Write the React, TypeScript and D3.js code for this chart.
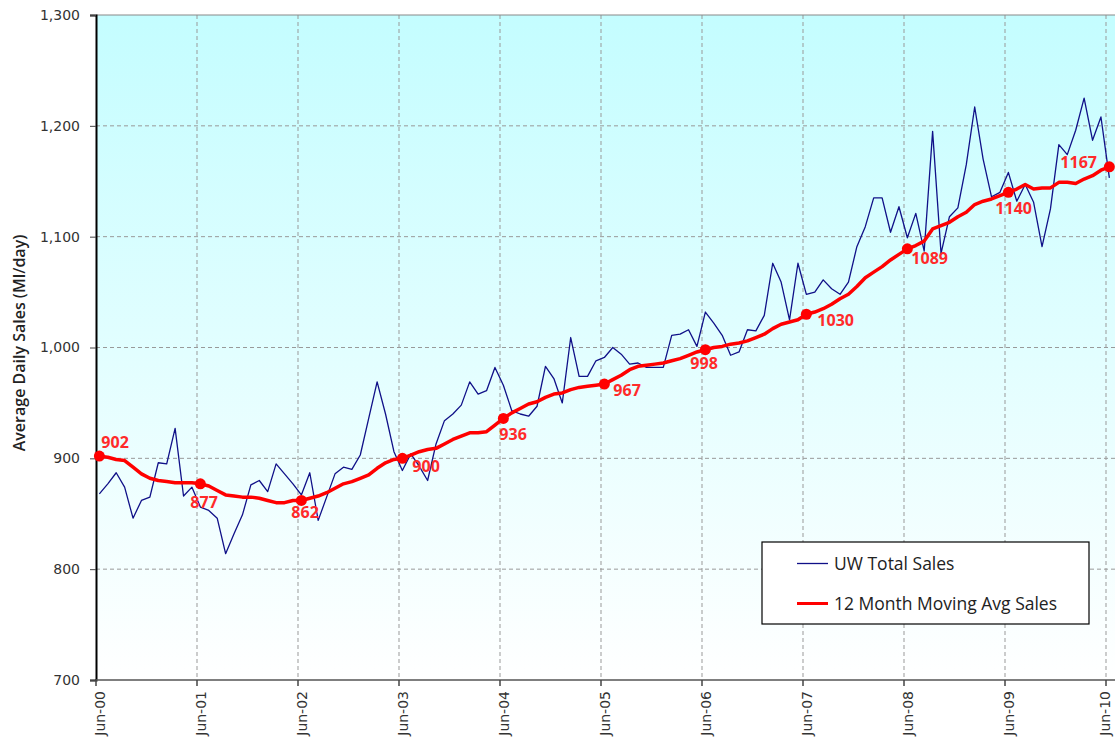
import { useEffect, useRef } from 'react';
import * as d3 from 'd3';

// monthly values, Jun-00 .. Jun-10 (121 months)
const totalSales: number[] = [
  868, 877, 887, 874, 846, 862, 865, 896, 895, 927, 866, 874,
  856, 853, 846, 814, 832, 849, 876, 880, 870, 895, 886, 877,
  867, 887, 844, 865, 886, 892, 890, 903, 936, 969, 940, 906,
  889, 904, 893, 880, 913, 934, 940, 948, 969, 958, 961, 982,
  966, 943, 940, 938, 947, 983, 972, 950, 1009, 974, 974, 988,
  991, 1000, 994, 985, 986, 982, 982, 982, 1011, 1012, 1016, 1001,
  1032, 1022, 1011, 993, 996, 1016, 1015, 1029, 1076, 1059, 1025, 1076,
  1048, 1050, 1061, 1053, 1048, 1059, 1091, 1109, 1135, 1135, 1104, 1127,
  1099, 1121, 1087, 1195, 1085, 1118, 1126, 1165, 1217, 1170, 1136, 1140,
  1158, 1132, 1147, 1131, 1091, 1125, 1183, 1174, 1196, 1225, 1187, 1208,
  1153,
];

const movingAvg: number[] = [
  902, 901, 899, 898, 892, 886, 882, 880, 879, 878, 878, 878,
  877, 875, 871, 867, 866, 865, 865, 864, 862, 860, 860, 862,
  862, 864, 866, 869, 873, 877, 879, 882, 885, 891, 896, 899,
  900, 903, 906, 908, 909, 913, 917, 920, 923, 923, 924, 930,
  936, 941, 945, 949, 951, 955, 958, 959, 962, 964, 965, 966,
  967, 971, 975, 980, 983, 984, 985, 986, 988, 990, 993, 996,
  998, 1000, 1001, 1003, 1004, 1006, 1009, 1012, 1017, 1021, 1023, 1025,
  1030, 1032, 1035, 1039, 1044, 1048, 1055, 1063, 1068, 1073, 1079, 1084,
  1089, 1092, 1096, 1107, 1110, 1113, 1118, 1122, 1129, 1132, 1134, 1137,
  1140, 1143, 1147, 1143, 1144, 1144, 1149, 1149, 1148, 1152, 1155, 1160,
  1163,
];

const tickLabels = ['Jun-00', 'Jun-01', 'Jun-02', 'Jun-03', 'Jun-04', 'Jun-05', 'Jun-06', 'Jun-07', 'Jun-08', 'Jun-09', 'Jun-10'];
const yTicks = [700, 800, 900, 1000, 1100, 1200, 1300];

// data labels on the moving average (every June)
const labelMonths = [0, 12, 24, 36, 48, 60, 72, 84, 96, 108, 120];
const labelTexts = ['902', '877', '862', '900', '936', '967', '998', '1030', '1089', '1140', '1167'];
// where each label sits relative to its marker
const labelOffsets: [number, number][] = [
  [2, -8], [-10, 24], [-10, 18], [10, 14], [-4, 22], [9, 12],
  [-15, 19], [11, 12], [4, 15], [-13, 22], [-49, 1],
];

const App = () => {
  const svgRef = useRef<SVGSVGElement>(null);

  useEffect(() => {
    if (!svgRef.current) return;
    document.body.style.margin = '0';

    const svg = d3.select(svgRef.current);
    svg.selectAll('*').remove();

    const left = 96;
    const top = 15;
    const bottom = 680;
    const right = 1115;
    const offset = 0.4; // data points sit a little past the month tick

    const x = d3.scaleLinear().domain([0, 120]).range([96, 1106]);
    const y = d3.scaleLinear().domain([700, 1300]).range([bottom, top]);

    const defs = svg.append('defs');
    const grad = defs
      .append('linearGradient')
      .attr('id', 'bg')
      .attr('x1', 0)
      .attr('y1', 0)
      .attr('x2', 0)
      .attr('y2', 1);
    grad.append('stop').attr('offset', '0%').attr('stop-color', '#c4fdff');
    grad.append('stop').attr('offset', '100%').attr('stop-color', '#ffffff');

    svg
      .append('rect')
      .attr('x', left)
      .attr('y', top)
      .attr('width', right - left)
      .attr('height', bottom - top)
      .attr('fill', 'url(#bg)');

    // grid
    svg
      .selectAll('.hgrid')
      .data(yTicks.filter((d) => d > 700 && d < 1300))
      .enter()
      .append('line')
      .attr('x1', left)
      .attr('x2', right)
      .attr('y1', (d) => y(d))
      .attr('y2', (d) => y(d))
      .attr('stroke', '#999')
      .attr('stroke-dasharray', '4,3');

    svg
      .selectAll('.vgrid')
      .data(tickLabels.slice(1))
      .enter()
      .append('line')
      .attr('x1', (_, i) => x((i + 1) * 12))
      .attr('x2', (_, i) => x((i + 1) * 12))
      .attr('y1', top)
      .attr('y2', bottom)
      .attr('stroke', '#999')
      .attr('stroke-dasharray', '4,3');

    // top border
    svg
      .append('line')
      .attr('x1', left)
      .attr('x2', right)
      .attr('y1', top)
      .attr('y2', top)
      .attr('stroke', '#888');

    // y axis
    const yAxis = d3
      .axisLeft(y)
      .tickValues(yTicks)
      .tickSize(6)
      .tickPadding(10)
      .tickFormat((d) => d3.format(',')(d as number));
    svg
      .append('g')
      .attr('transform', `translate(${left},0)`)
      .call(yAxis)
      .call((g) => g.select('.domain').attr('stroke', '#000').attr('stroke-width', 2))
      .call((g) => g.selectAll('.tick line').attr('stroke', '#444'))
      .call((g) =>
        g
          .selectAll('.tick text')
          .attr('font-family', 'DejaVu Sans')
          .attr('font-size', 14)
          .attr('fill', '#333')
      );

    // x axis
    svg
      .append('line')
      .attr('x1', left)
      .attr('x2', right)
      .attr('y1', bottom)
      .attr('y2', bottom)
      .attr('stroke', '#555')
      .attr('stroke-width', 1.5);

    svg
      .selectAll('.xtick')
      .data(tickLabels)
      .enter()
      .append('line')
      .attr('x1', (_, i) => x(i * 12))
      .attr('x2', (_, i) => x(i * 12))
      .attr('y1', bottom)
      .attr('y2', bottom + 6)
      .attr('stroke', '#444')
      .attr('stroke-width', 1.5);

    svg
      .selectAll('.xlabel')
      .data(tickLabels)
      .enter()
      .append('text')
      .attr('transform', (_, i) => `translate(${Math.min(x(i * 12) + 9, 1110)},691) rotate(-90)`)
      .attr('text-anchor', 'end')
      .attr('font-family', 'DejaVu Sans')
      .attr('font-size', 14)
      .attr('fill', '#333')
      .text((d) => d);

    // y title
    svg
      .append('text')
      .attr('transform', 'translate(25,343) rotate(-90)')
      .attr('text-anchor', 'middle')
      .attr('font-family', 'Open Sans')
      .attr('font-weight', 600)
      .attr('font-size', 16)
      .attr('fill', '#222')
      .text('Average Daily Sales (Ml/day)');

    // series
    const line = d3
      .line<number>()
      .x((_, i) => x(i + offset))
      .y((d) => y(d));

    svg
      .append('path')
      .datum(totalSales)
      .attr('d', line)
      .attr('fill', 'none')
      .attr('stroke', '#101088')
      .attr('stroke-width', 1.3)
      .attr('stroke-linejoin', 'round');

    svg
      .append('path')
      .datum(movingAvg)
      .attr('d', line)
      .attr('fill', 'none')
      .attr('stroke', '#ff0000')
      .attr('stroke-width', 3.5)
      .attr('stroke-linejoin', 'round');

    svg
      .selectAll('.marker')
      .data(labelMonths)
      .enter()
      .append('circle')
      .attr('cx', (m) => x(m + offset))
      .attr('cy', (m) => y(movingAvg[m]))
      .attr('r', 5.5)
      .attr('fill', '#ff0000');

    svg
      .selectAll('.dlabel')
      .data(labelMonths)
      .enter()
      .append('text')
      .attr('x', (m, i) => x(m + offset) + labelOffsets[i][0])
      .attr('y', (m, i) => y(movingAvg[m]) + labelOffsets[i][1])
      .attr('font-family', 'Open Sans')
      .attr('font-weight', 700)
      .attr('font-size', 16)
      .attr('fill', '#ff2a2a')
      .text((_, i) => labelTexts[i]);

    // legend
    const legend = svg.append('g').attr('transform', 'translate(762,542)');
    legend
      .append('rect')
      .attr('width', 327)
      .attr('height', 82)
      .attr('fill', '#fff')
      .attr('stroke', '#000')
      .attr('stroke-width', 1.2);
    const items = [
      { name: 'UW Total Sales', color: '#101088', width: 1.3 },
      { name: '12 Month Moving Avg Sales', color: '#ff0000', width: 3 },
    ];
    items.forEach((item, i) => {
      const cy = 21.5 + i * 40;
      legend
        .append('line')
        .attr('x1', 35)
        .attr('x2', 66)
        .attr('y1', cy)
        .attr('y2', cy)
        .attr('stroke', item.color)
        .attr('stroke-width', item.width);
      legend
        .append('text')
        .attr('x', 72)
        .attr('y', cy + 6)
        .attr('font-family', 'Open Sans')
        .attr('font-size', 17.5)
        .attr('fill', '#222')
        .text(item.name);
    });
  }, []);

  return <svg ref={svgRef} width={1115} height={740} style={{ display: 'block' }}></svg>;
};

export default App;
